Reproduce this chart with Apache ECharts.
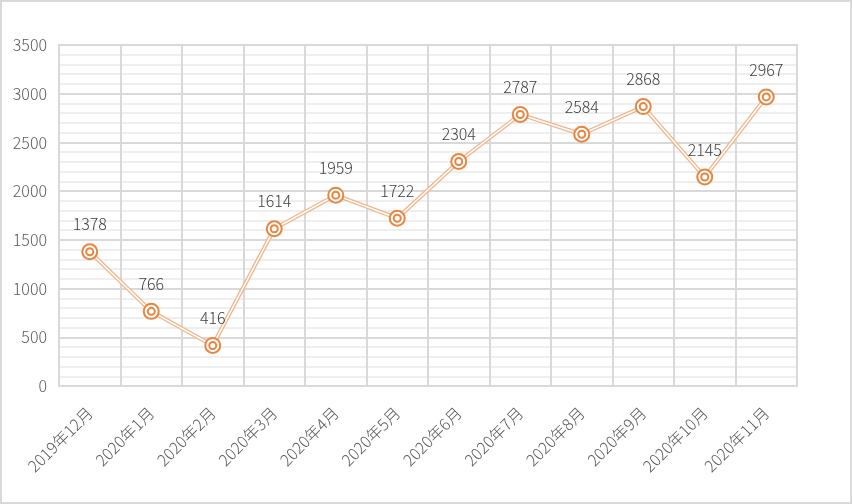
<!DOCTYPE html>
<html>
<head>
<meta charset="utf-8">
<script src="https://cdn.jsdelivr.net/npm/echarts@6/dist/echarts.min.js"></script>
<style>
  html, body { margin: 0; padding: 0; background: #fff; }
  #chart { width: 852px; height: 504px; }
</style>
</head>
<body>
<div id="chart"></div>
<script>
// 月份与数值
const months = ['2019年12月', '2020年1月', '2020年2月', '2020年3月', '2020年4月', '2020年5月',
  '2020年6月', '2020年7月', '2020年8月', '2020年9月', '2020年10月', '2020年11月']
const counts = [1378, 766, 416, 1614, 1959, 1722, 2304, 2787, 2584, 2868, 2145, 2967]

const orange = '#E9853F'
const font = '"Noto Sans CJK JP", "Noto Sans", sans-serif'

const chart = echarts.init(document.getElementById('chart'))
chart.setOption({
  backgroundColor: '#ffffff',
  animation: false,
  graphic: [{
    type: 'rect',
    shape: { x: 1, y: 1, width: 850, height: 502 },
    style: { fill: 'none', stroke: '#d9d9d9', lineWidth: 2 },
    z: 100
  }],
  grid: {
    left: 59,
    right: 55,
    top: 45,
    bottom: 118,
    show: true,
    borderColor: '#d9d9d9',
    borderWidth: 2
  },
  xAxis: {
    type: 'category',
    data: months,
    boundaryGap: true,
    axisLine: { lineStyle: { color: '#d9d9d9', width: 2 } },
    axisTick: { show: false },
    axisLabel: {
      rotate: 45,
      margin: 24,
      color: '#595959',
      fontSize: 16,
      fontFamily: font,
      fontWeight: 300,
      interval: 0
    },
    splitLine: { show: true, lineStyle: { color: '#d9d9d9', width: 2 } }
  },
  yAxis: {
    type: 'value',
    min: 0,
    max: 3500,
    interval: 500,
    axisLine: { show: false },
    axisTick: { show: false },
    axisLabel: {
      margin: 12,
      color: '#595959',
      fontSize: 16,
      fontFamily: font,
      fontWeight: 300,
      formatter: v => String(v)
    },
    splitLine: { lineStyle: { color: '#d9d9d9', width: 2 } },
    minorTick: { show: false, splitNumber: 5 },
    minorSplitLine: { show: true, lineStyle: { color: '#eeeeee', width: 2 } }
  },
  series: [{
    // 双线外层
    type: 'line',
    data: counts,
    symbol: 'none',
    lineStyle: { color: '#F2B48A', width: 4 },
    z: 2
  }, {
    // 双线内层
    type: 'line',
    data: counts,
    symbol: 'none',
    lineStyle: { color: '#ffffff', width: 1.5 },
    z: 3
  }, {
    type: 'line',
    data: counts,
    symbol: 'circle',
    symbolSize: 15,
    lineStyle: { width: 0, opacity: 0 },
    itemStyle: { color: '#ffffff', borderColor: orange, borderWidth: 2 },
    label: {
      show: true,
      position: 'top',
      distance: 11,
      color: '#404040',
      fontSize: 16,
      fontFamily: font,
      fontWeight: 300
    },
    z: 4
  }, {
    type: 'line',
    data: counts,
    symbol: 'circle',
    symbolSize: 7,
    lineStyle: { width: 0, opacity: 0 },
    itemStyle: { color: '#ffffff', borderColor: orange, borderWidth: 2 },
    z: 5
  }]
})
</script>
</body>
</html>
